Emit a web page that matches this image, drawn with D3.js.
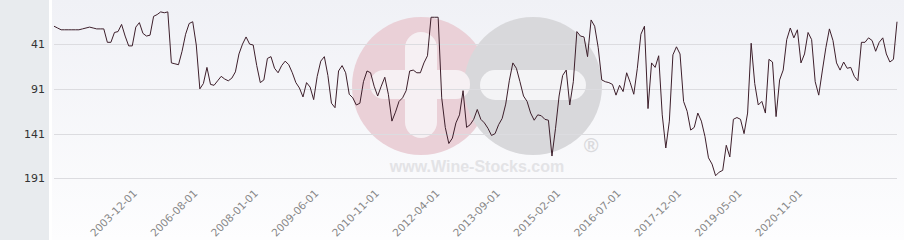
<!DOCTYPE html>
<meta charset="utf-8">
<script src="https://d3js.org/d3.v7.min.js"></script>
<style>
  body { margin: 0; background: #fff; }
  svg { display: block; font-family: "DejaVu Sans", sans-serif; }
</style>
<body>
<div id="chart"></div>
<script>

// rank per month (lower = better)
var ranks = [
  21, 23, 25, 25, 25, 25, 25, 25, 24, 23,
  22, 23, 24, 24, 24, 39, 39, 28, 27, 19,
  32, 43, 43, 22, 17, 29, 32, 31, 10, 8,
  5, 6, 5, 62, 63, 64, 49, 30, 18, 16,
  42, 91, 85, 67, 86, 87, 82, 77, 80, 82,
  79, 72, 52, 41, 33, 41, 42, 65, 84, 81,
  57, 55, 68, 73, 65, 60, 64, 73, 84, 90,
  100, 84, 89, 103, 77, 60, 55, 76, 107, 112,
  71, 65, 73, 97, 101, 109, 107, 83, 71, 73,
  88, 99, 88, 78, 97, 127, 117, 105, 101, 93,
  71, 70, 73, 73, 62, 54, 11, 11, 11, 101,
  134, 152, 146, 129, 120, 93, 134, 131, 125, 114,
  125, 129, 135, 143, 141, 131, 124, 108, 82, 62,
  68, 83, 99, 105, 118, 126, 120, 121, 125, 126,
  166, 135, 99, 76, 70, 109, 83, 27, 32, 33,
  55, 14, 21, 45, 81, 83, 84, 86, 98, 87,
  94, 73, 84, 97, 68, 30, 21, 113, 62, 67,
  54, 120, 157, 127, 53, 44, 52, 105, 116, 137,
  134, 118, 127, 144, 168, 175, 188, 184, 182, 154,
  167, 125, 123, 125, 141, 118, 40, 85, 109, 105,
  118, 58, 61, 122, 81, 70, 36, 23, 34, 25,
  62, 52, 28, 36, 83, 98, 71, 45, 24, 37,
  62, 70, 61, 68, 67, 77, 82, 39, 39, 34,
  37, 49, 39, 34, 52, 61, 58, 16
];

var yTicks = [41, 91, 141, 191];

var tickLabels = ["2003-12-01", "2006-08-01", "2008-01-01", "2009-06-01",
  "2010-11-01", "2012-04-01", "2013-09-01", "2015-02-01", "2016-07-01",
  "2017-12-01", "2019-05-01", "2020-11-01"];
var tickIndex = [23, 40, 57, 74, 91, 108, 125, 142, 159, 176, 193, 210];

var W = 904, H = 240;
var plot = {left: 54, right: 897, top: 8.3, bottom: 182};

var svg = d3.select("#chart").append("svg")
    .attr("width", W)
    .attr("height", H);

var defs = svg.append("defs");
var grad = defs.append("linearGradient")
    .attr("id", "bg").attr("x1", 0).attr("y1", 0).attr("x2", 0).attr("y2", 1);
grad.append("stop").attr("offset", "0%").attr("stop-color", "#f0f1f6");
grad.append("stop").attr("offset", "100%").attr("stop-color", "#fdfdfe");

// backgrounds
svg.append("rect").attr("x", 0).attr("y", 0).attr("width", 49).attr("height", H)
    .attr("fill", "#e8ebee");
svg.append("rect").attr("x", 49).attr("y", 0).attr("width", W - 49).attr("height", H)
    .attr("fill", "#ffffff");
svg.append("rect").attr("x", 52).attr("y", 0).attr("width", W - 52).attr("height", H)
    .attr("fill", "url(#bg)");

var x = d3.scaleLinear()
    .domain([0, ranks.length - 1])
    .range([plot.left, plot.right]);

var y = d3.scaleLinear()
    .domain([1, 195])
    .range([plot.top, plot.bottom]);

// watermark logo
var logo = svg.append("g");
logo.append("circle").attr("cx", 421).attr("cy", 86).attr("r", 69).attr("fill", "#ead0d7");
logo.append("circle").attr("cx", 533).attr("cy", 86).attr("r", 69).attr("fill", "#d8d8db");
logo.append("rect").attr("x", 405).attr("y", 32).attr("width", 32).attr("height", 106)
    .attr("rx", 16).attr("fill", "#f6f0f3");
logo.append("rect").attr("x", 370).attr("y", 70).attr("width", 100).attr("height", 29)
    .attr("rx", 14).attr("fill", "#f6f0f3");
logo.append("rect").attr("x", 480).attr("y", 70).attr("width", 106).attr("height", 30)
    .attr("rx", 15).attr("fill", "#f4f4f6");
logo.append("text").attr("x", 477).attr("y", 172)
    .attr("text-anchor", "middle")
    .attr("font-family", "Liberation Sans, Arial, sans-serif")
    .attr("font-weight", "bold")
    .attr("font-size", 16)
    .attr("fill", "#e3e3e6")
    .text("www.Wine-Stocks.com");
logo.append("text").attr("x", 591).attr("y", 152)
    .attr("text-anchor", "middle")
    .attr("font-family", "Liberation Sans, Arial, sans-serif")
    .attr("font-weight", "bold")
    .attr("font-size", 20)
    .attr("fill", "#dadadd")
    .text("\u00ae");

// grid
svg.append("g").selectAll("line")
    .data(yTicks)
    .join("line")
      .attr("x1", plot.left).attr("x2", plot.right)
      .attr("y1", function(d) { return Math.round(y(d)) + 0.5; })
      .attr("y2", function(d) { return Math.round(y(d)) + 0.5; })
      .attr("stroke", "#dcdce0")
      .attr("stroke-width", 1);

// y labels
svg.append("g").selectAll("text")
    .data(yTicks)
    .join("text")
      .attr("x", 45)
      .attr("y", function(d) { return y(d) + 4; })
      .attr("text-anchor", "end")
      .attr("font-size", 11)
      .attr("fill", "#333")
      .text(function(d) { return d; });

// x labels
svg.append("g").selectAll("text")
    .data(tickIndex)
    .join("text")
      .attr("text-anchor", "end")
      .attr("font-size", 10.5)
      .attr("fill", "#888")
      .attr("transform", function(d) {
        return "translate(" + (x(d) + 2) + ",194) rotate(-45)";
      })
      .text(function(d, i) { return tickLabels[i]; });

// line
var line = d3.line()
    .x(function(d, i) { return x(i); })
    .y(function(d) { return y(d); });

svg.append("path")
    .datum(ranks)
    .attr("d", line)
    .attr("fill", "none")
    .attr("stroke", "#3d1f2b")
    .attr("stroke-width", 1);

</script>
</body>
